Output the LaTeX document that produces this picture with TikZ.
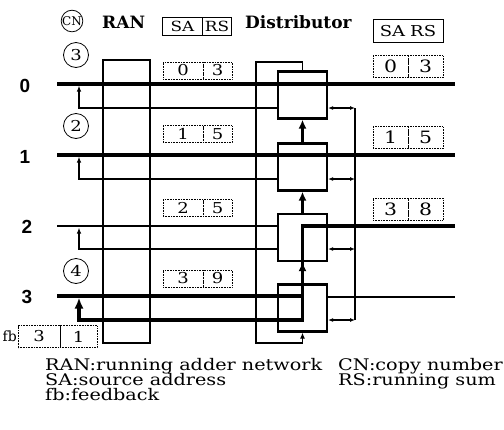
\documentclass[tikz,border=0pt]{standalone}
\usepackage{fontspec}
\setmainfont{DejaVu Serif}
\newfontfamily\widefont{DejaVu Serif}[FakeStretch=1.2]
\newfontfamily\plainfont{DejaVu Serif}
\newfontfamily\busfont{Liberation Sans}
\usetikzlibrary{arrows.meta,positioning,calc}
\tikzset{
    bus/.style={line width=3.5pt},
    wire/.style={line width=1.2pt},
    unit/.style={draw, line width=2.2pt, minimum width=49pt, minimum height=47pt, inner sep=0pt},
    ranbox/.style={draw, line width=1.8pt, minimum width=47pt, minimum height=283pt, inner sep=0pt},
    cnum/.style={draw, circle, line width=0.8pt, minimum size=25pt, inner sep=0pt,
        font=\widefont\fontsize{15}{15}\selectfont},
    cnkey/.style={draw, circle, line width=0.8pt, minimum size=21pt, inner sep=0pt,
        font=\plainfont\fontsize{12}{12}\selectfont},
    busno/.style={font=\busfont\bfseries\fontsize{19}{19}\selectfont},
    hdr/.style={inner sep=0pt, font=\bfseries\fontsize{17}{17}\selectfont},
    cell/.style={draw, line width=0.6pt, inner sep=0pt, outer sep=0pt},
    sa/.style={cell, densely dotted, minimum width=40pt, minimum height=17pt,
        font=\widefont\fontsize{15}{15}\selectfont},
    rs/.style={sa, minimum width=29pt},
    wsa/.style={cell, densely dotted, minimum width=35pt, minimum height=22pt,
        font=\widefont\fontsize{17}{17}\selectfont},
    wrs/.style={wsa},
    legend/.style={inner sep=0pt, font=\widefont\fontsize{16}{15}\selectfont}
}

\begin{document}
\begin{tikzpicture}[x=1pt,y=-1pt,line join=miter]
\useasboundingbox (0,0) rectangle (504,429);

% --- geometry (pixels of the reference, y downwards) ---
    \def\xL{57}    % left end of the buses
    \def\xR{455}   % right end of the buses
    \def\xF{79}    % feedback risers
    \def\xV{355}   % right-hand ring

% distributor units and the RAN
    \node[unit] (d0) at (302.5,95) {};
    \node[unit] (d1) at (302.5,167) {};
    \node[unit] (d2) at (302.5,237.5) {};
    \node[unit] (d3) at (302.5,308) {};
    \node[ranbox] (ran) at (126.5,201.5) {};

% buses
    \draw[bus] (\xL,84) -- (\xR,84);
    \draw[bus] (\xL,155) -- (\xR,155);
    \draw[wire] (\xL,226) -- (d2.west |- 0,226);
    \draw[bus] (\xL,296) -- (d3.center |- 0,296);
    \draw[wire] (d3.east |- 0,297) -- (\xR,297);

% winning path of row 3 (thick)
    \draw[bus,-{Latex[length=11pt,width=9pt]}] (\xR,226) -- (d2.center |- 0,226)
        -- (d3.center |- 0,320) -- (\xF,320) -- (\xF,297.5);

% feedback of rows 0..2
    \foreach \i/\yb/\yf in {0/84/108,1/155/179,2/226/249}
        \draw[wire,-{Latex[length=6pt,width=4.5pt]}] (d\i.west |- 0,\yf) -- (\xF,\yf) -- (\xF,\yb+1.5);

% ring on the right
    \draw[wire] (\xV,108) -- (\xV,320);
    \foreach \i/\yf in {0/108,1/179,2/249,3/320}
        \draw[wire,{Latex[length=5pt,width=4pt]}-{Latex[length=5pt,width=4pt]}] (d\i.east |- 0,\yf) -- (\xV,\yf);

% unit to unit
    \draw[bus,-{Latex[length=9pt,width=8pt]}] (d1.north) -- (d0.south);
    \draw[bus,-{Latex[length=9pt,width=8pt]}] (d2.north) -- (d1.south);
    \draw[bus,-{Latex[length=9pt,width=8pt]}] (d3.north) -- (d2.south);

% wrap-around from the top unit to the bottom one
    \draw[wire,-{Latex[length=6pt,width=5pt]}] (d0.north) |- (256,62) |- (d3.south |- 0,343) -- (d3.south);

% bus numbers
    \node[busno] (n0) at (25,86) {0};
    \node[busno] (n1) at (25,157) {1};
    \node[busno] (n2) at (27,227) {2};
    \node[busno] (n3) at (27,297) {3};

% copy numbers
    \node[cnkey] (cnk) at (72,21) {CN};
    \node[cnum] (cn0) at (76,55) {3};
    \node[cnum] (cn1) at (76,126) {2};
    \node[cnum] (cn3) at (76,271) {4};

% headings
    \node[hdr, anchor=west] (ranl) at (102,22) {RAN};
    \node[hdr, anchor=west] (distl) at (245,22) {Distributor};
    \node[cell, minimum width=40pt, minimum height=18pt, font=\widefont\fontsize{14}{14}\selectfont] (hsa) at (182.5,26) {SA};
    \node[cell, minimum width=29pt, minimum height=18pt, font=\widefont\fontsize{14}{14}\selectfont, right=0pt of hsa] (hrs) {RS};
    \node[cell, minimum width=70pt, minimum height=23pt, font=\widefont\fontsize{15}{15}\selectfont] (hsr) at (408,31) {SA\hspace{5pt}RS};

% SA / RS after the RAN
    \node[sa] (sa0) at (183,70.5) {0};  \node[rs, right=0pt of sa0] (rs0) {3};
    \node[sa] (sa1) at (183,134) {1};   \node[rs, right=0pt of sa1] (rs1) {5};
    \node[sa] (sa2) at (183,208) {2};   \node[rs, right=0pt of sa2] (rs2) {5};
    \node[sa] (sa3) at (183,278.5) {3}; \node[rs, right=0pt of sa3] (rs3) {9};

% SA / RS after the distributor
    \node[wsa] (wsa0) at (390.5,66.5) {0};  \node[wrs, right=0pt of wsa0] (wrs0) {3};
    \node[wsa] (wsa1) at (390.5,137.5) {1}; \node[wrs, right=0pt of wsa1] (wrs1) {5};
    \node[wsa] (wsa2) at (390.5,209) {3};   \node[wrs, right=0pt of wsa2] (wrs2) {8};

% feedback value
    \node[sa, minimum width=42pt, minimum height=22pt] (fb3) at (39,336.5) {3};
    \node[sa, minimum width=37pt, minimum height=22pt, right=0pt of fb3] (fb1) {1};
    \node[inner sep=0pt, font=\plainfont\fontsize{14}{14}\selectfont, left=1pt of fb3] (fbl) {fb};

% key
    \node[legend, anchor=base west] (k1) at (45,370) {RAN:running adder network};
    \node[legend, anchor=base west] (k2) at (45,385) {SA:source address};
    \node[legend, anchor=base west] (k3) at (45,400) {fb:feedback};
    \node[legend, anchor=base west] (k4) at (338,370) {CN:copy number};
    \node[legend, anchor=base west] (k5) at (338,385) {RS:running sum};

\end{tikzpicture}
\end{document}
